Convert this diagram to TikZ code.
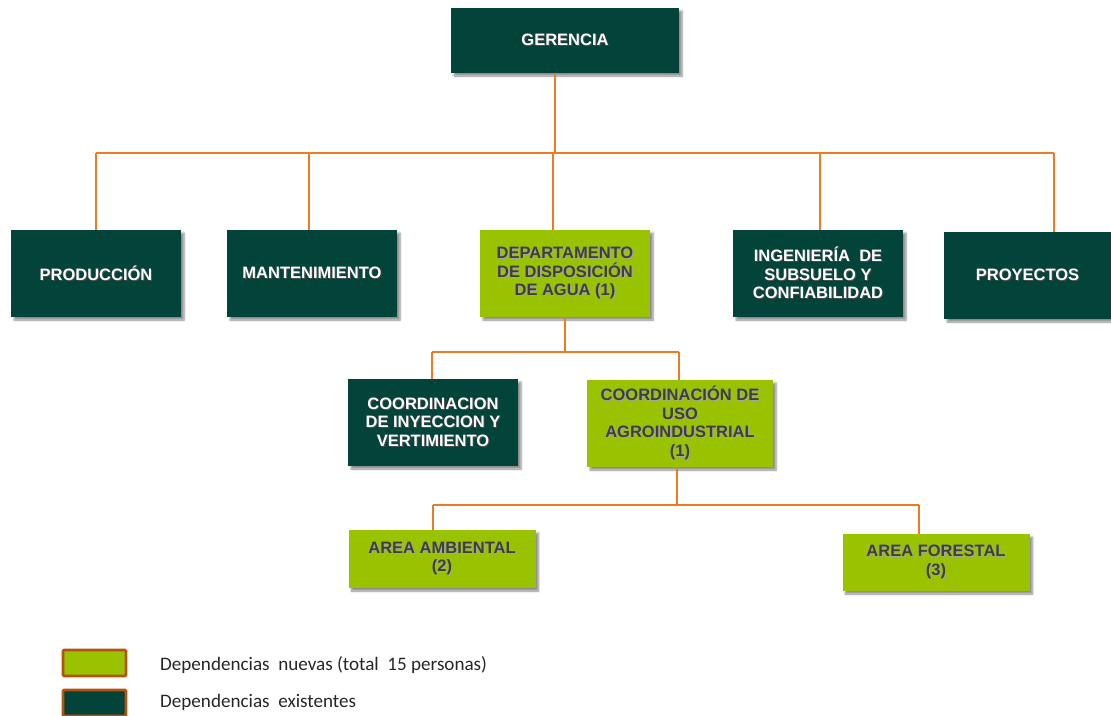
\documentclass[tikz,border=0pt]{standalone}
\usepackage{fontspec}
\setmainfont{Liberation Sans}
\newfontfamily\legfont{Carlito}
\usetikzlibrary{shadows.blur}
\definecolor{dkgreen}{HTML}{02443A}
\definecolor{lime}{HTML}{99C200}
\definecolor{txtgray}{HTML}{3E3E3E}
\definecolor{lineor}{HTML}{F07A22}
\definecolor{legbrd}{HTML}{B5520F}
\newcommand\shw[1]{\makebox[0pt][l]{\hspace{1pt}\raisebox{-1pt}{\color{black!70}#1}}#1}
\newcommand\shg[1]{\makebox[0pt][l]{\hspace{1pt}\raisebox{-1pt}{\color{black!35}#1}}#1}
\tikzset{
  base/.style={rectangle, inner sep=0pt, align=center, font=\fontsize{16.5}{18.6}\selectfont\bfseries,
    blur shadow={shadow xshift=3pt, shadow yshift=-3pt, shadow blur steps=6, shadow opacity=45}},
  oldbox/.style={base, fill=dkgreen, text=white},
  newbox/.style={base, fill=lime, text=txtgray},
  conn/.style={draw=lineor, line width=1.2pt},
  legbox/.style={rectangle, draw=legbrd, line width=2.6pt, rounded corners=1pt, minimum width=63pt, minimum height=26pt},
  legtext/.style={anchor=base west, inner sep=0pt, font=\legfont\fontsize{19.1}{21}\selectfont, text=black!85}
}
\begin{document}
\begin{tikzpicture}[x=1pt, y=-1pt]
\useasboundingbox (0,0) rectangle (1111,715);
% boxes
\node[oldbox, minimum width=228pt, minimum height=65pt] (ger) at (565,40.5) {\shw{GERENCIA}};
\node[oldbox, minimum width=170pt, minimum height=87pt] (prod) at (96,273.5) {\shw{PRODUCCIÓN}};
\node[oldbox, minimum width=170pt, minimum height=87pt] (mant) at (312,273.5) {\shw{MANTENIMIENTO}};
\node[newbox, minimum width=170pt, minimum height=87pt] (dep) at (565,273.5) {\shg{DEPARTAMENTO}\\\shg{DE DISPOSICIÓN}\\\shg{DE AGUA (1)}};
\node[oldbox, minimum width=170pt, minimum height=87pt] (ing) at (818,273.5) {\shw{INGENIERÍA\ \ DE}\\\shw{SUBSUELO Y}\\\shw{CONFIABILIDAD}};
\node[oldbox, minimum width=167pt, minimum height=87pt] (proy) at (1027.5,275.5) {\shw{PROYECTOS}};
\node[oldbox, minimum width=170pt, minimum height=87pt] (iny) at (433,422.5) {\shw{COORDINACION}\\\shw{DE INYECCION Y}\\\shw{VERTIMIENTO}};
\node[newbox, minimum width=186pt, minimum height=87pt] (uso) at (680,423.5) {\shg{COORDINACIÓN DE}\\\shg{USO}\\\shg{AGROINDUSTRIAL}\\\shg{(1)}};
\node[newbox, minimum width=187pt, minimum height=58pt] (amb) at (442,559) {\shg{AREA AMBIENTAL}\\\shg{(2)}};
\node[newbox, minimum width=187pt, minimum height=57pt] (for) at (936,562.5) {\shg{AREA FORESTAL}\\\shg{(3)}};
% bus coordinates
\coordinate (b1L) at (96,153);
\coordinate (b1R) at (1054,153);
\coordinate (b2L) at (432,352);
\coordinate (b2R) at (679,352);
\coordinate (b3L) at (433,505);
\coordinate (b3R) at (919,505);
% level 1
\draw[conn] ([xshift=-10pt]ger.south) -- ([xshift=-10pt]ger.south |- b1L);
\draw[conn] (b1L) -- (b1R);
\draw[conn] (prod.north) -- (prod.north |- b1L);
\draw[conn] ([xshift=-3pt]mant.north) -- ([xshift=-3pt]mant.north |- b1L);
\draw[conn] ([xshift=-12pt]dep.north) -- ([xshift=-12pt]dep.north |- b1L);
\draw[conn] ([xshift=2pt]ing.north) -- ([xshift=2pt]ing.north |- b1L);
\draw[conn] (proy.north -| b1R) -- (b1R);
% level 2
\draw[conn] (dep.south) -- (dep.south |- b2L);
\draw[conn] (b2L) -- (b2R);
\draw[conn] (iny.north -| b2L) -- (b2L);
\draw[conn] (uso.north -| b2R) -- (b2R);
% level 3
\draw[conn] ([xshift=-3pt]uso.south) -- ([xshift=-3pt]uso.south |- b3L);
\draw[conn] (b3L) -- (b3R);
\draw[conn] (amb.north -| b3L) -- (b3L);
\draw[conn] (for.north -| b3R) -- (b3R);
% legend
\node[legbox, fill=lime] (lnew) at (94.5,663) {};
\node[legbox, fill=dkgreen] (lold) at (94.5,703) {};
\node[legtext] (tnew) at (160,670) {Dependencias\ \ nuevas (total\ \ 15 personas)};
\node[legtext] (told) at (160,707) {Dependencias\ \ existentes};
\end{tikzpicture}
\end{document}
